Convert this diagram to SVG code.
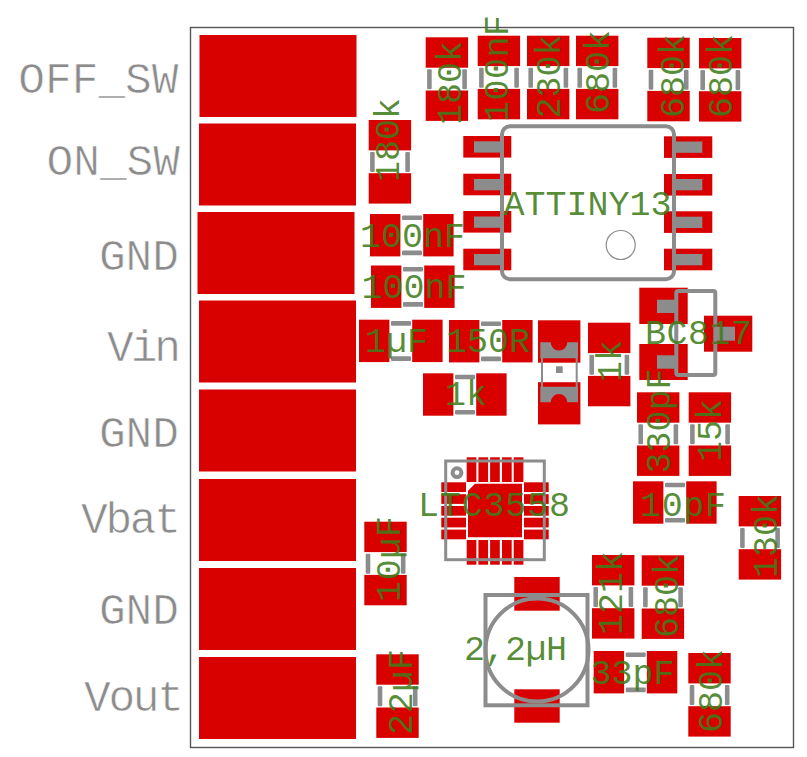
<svg xmlns="http://www.w3.org/2000/svg" width="807" height="757" viewBox="0 0 807 757">
<style>
.p{fill:#d90000}
.g{fill:#8c8c8c}
.o{fill:none;stroke:#8c8c8c}
.t{font-family:"Liberation Mono",monospace;font-size:35px;fill:#3f7d1a;fill-opacity:.88}
.l{font-family:"Liberation Mono",monospace;font-size:44.5px;fill:#8c8c8c;text-anchor:end;stroke:#fff;stroke-width:.6}
</style>
<defs>
<g id="capV"><rect class="p" width="42.4" height="30.4"/><rect class="p" y="53.2" width="42.4" height="30.4"/><rect class="g" x="1.4" y="32" width="4.6" height="20" rx="1"/><rect class="g" x="36.6" y="32" width="4.6" height="20" rx="1"/></g>
<g id="capH"><rect class="p" width="30.4" height="42.4"/><rect class="p" x="53.2" width="30.4" height="42.4"/><rect class="g" x="32" y="1.4" width="20" height="4.6" rx="1"/><rect class="g" x="32" y="36.6" width="20" height="4.6" rx="1"/></g>
<rect id="conn" class="p" width="157" height="82"/>
<rect id="qv" class="p" width="9.7" height="24.7"/>
<rect id="qh" class="p" width="24.7" height="9.7"/>
</defs>
<rect width="807" height="757" fill="#fff"/>
<rect id="board" x="190.5" y="27.5" width="603" height="720" fill="none" stroke="#555" stroke-width="1.4"/>
<g id="connectors"/>
<g id="pad-off-sw"><use href="#conn" x="199.5" y="35"/><text class="l" x="178.5" y="92.7">OFF_SW</text></g>
<g id="pad-on-sw"><use href="#conn" x="199" y="123.5"/><text class="l" x="180" y="175">ON_SW</text></g>
<g id="pad-gnd-1"><use href="#conn" x="197.5" y="212"/><text class="l" x="179" y="270">GND</text></g>
<g id="pad-vin"><use href="#conn" x="199" y="300.5"/><text class="l" x="181" y="360.7" textLength="74">Vin</text></g>
<g id="pad-gnd-2"><use href="#conn" x="199" y="389.5"/><text class="l" x="179" y="447">GND</text></g>
<g id="pad-vbat"><use href="#conn" x="199" y="479"/><text class="l" x="181" y="533" textLength="100">Vbat</text></g>
<g id="pad-gnd-3"><use href="#conn" x="199" y="568"/><text class="l" x="179" y="624">GND</text></g>
<g id="pad-vout"><use href="#conn" x="199" y="657"/><text class="l" x="184" y="711" textLength="100">Vout</text></g>

<g id="attiny13">
<rect class="p" x="463.3" y="136" width="48" height="21.6"/><rect class="p" x="463.3" y="173.7" width="48" height="21.6"/><rect class="p" x="463.3" y="211" width="48" height="21.6"/><rect class="p" x="463.3" y="248.7" width="48" height="21.6"/>
<rect class="p" x="664" y="136.3" width="48.3" height="21.6"/><rect class="p" x="664" y="174" width="48.3" height="21.6"/><rect class="p" x="664" y="211.3" width="48.3" height="21.6"/><rect class="p" x="664" y="248.7" width="48.3" height="21.6"/>
<rect class="g" x="474" y="141.3" width="28" height="11.3"/><rect class="g" x="474" y="179" width="28" height="11.3"/><rect class="g" x="474" y="216.5" width="28" height="11.3"/><rect class="g" x="474" y="254" width="28" height="11.3"/>
<rect class="g" x="674.5" y="141.5" width="27.8" height="11.3"/><rect class="g" x="674.5" y="179" width="27.8" height="11.3"/><rect class="g" x="674.5" y="216.7" width="27.8" height="11.3"/><rect class="g" x="674.5" y="254" width="27.8" height="11.3"/>
<rect class="o" x="502" y="126.3" width="172" height="153" rx="8" stroke-width="4"/>
<circle class="o" cx="620.7" cy="245" r="14.5" stroke-width="1.2"/>
<text class="t" x="503.5" y="215">ATTINY13</text>
</g>

<g id="r-180k-a"><use href="#capV" x="425.7" y="37.3"/><text class="t" x="461" y="125" transform="rotate(-90 461 125)">180k</text></g>
<g id="c-100nf-a"><use href="#capV" x="477.7" y="35.7"/><text class="t" x="507.7" y="122" transform="rotate(-90 507.7 122)" textLength="107">100nF</text></g>
<g id="r-230k"><use href="#capV" x="527" y="35.7"/><text class="t" x="560" y="118.5" transform="rotate(-90 560 118.5)">230k</text></g>
<g id="r-680k-a"><use href="#capV" x="576" y="35.7"/><text class="t" x="609" y="114" transform="rotate(-90 609 114)">680k</text></g>
<g id="r-680k-b"><use href="#capV" x="647.3" y="37.7"/><text class="t" x="683.5" y="118" transform="rotate(-90 683.5 118)">680k</text></g>
<g id="r-680k-c"><use href="#capV" x="699" y="38"/><text class="t" x="732" y="118" transform="rotate(-90 732 118)">680k</text></g>
<g id="r-180k-b"><use href="#capV" x="368.7" y="120"/><text class="t" x="399" y="182" transform="rotate(-90 399 182)">180k</text></g>
<g id="c-100nf-b"><use href="#capH" x="370" y="214"/><text class="t" x="360" y="246.7">100nF</text></g>
<g id="c-100nf-c"><use href="#capH" x="371" y="265.5"/><text class="t" x="361.5" y="298.3">100nF</text></g>
<g id="c-1uf"><use href="#capH" x="359" y="319.7"/><text class="t" x="365" y="351.7">1µF</text></g>
<g id="r-150r"><use href="#capH" x="449" y="320"/><text class="t" x="446" y="352">150R</text></g>
<g id="r-1k-a"><use href="#capH" x="423" y="373.3"/><text class="t" x="445" y="405">1k</text></g>

<g id="led">
<rect class="p" x="538" y="320.3" width="42.4" height="42.4"/><rect class="p" x="538" y="382.2" width="42.4" height="42.2"/>
<path class="g" d="M540.3 342.3H550.7A8.3 8.3 0 0 0 567.3 342.3H578V358.3H540.3Z"/>
<path class="g" d="M540.3 386.7H578V402.3H567.3A8.3 8.3 0 0 0 550.7 402.3H540.3Z"/>
<path class="o" d="M542 358V387M576.7 358V387" stroke-width="2"/>
<rect class="g" x="556" y="366.3" width="6.7" height="6.7"/>
</g>
<g id="r-1k-b"><use href="#capV" x="588" y="322.7"/><text class="t" x="620.7" y="382" transform="rotate(-90 620.7 382)">1k</text></g>

<g id="bc817">
<rect class="p" x="639.3" y="287.7" width="48.4" height="36.3"/><rect class="p" x="639.3" y="344" width="48.4" height="36"/><rect class="p" x="704" y="315.7" width="48.3" height="36"/>
<rect class="g" x="657" y="299.7" width="20" height="13.3"/><rect class="g" x="657" y="355.3" width="20" height="13.4"/><rect class="g" x="716" y="326.7" width="19" height="14"/>
<rect class="o" x="676.3" y="291" width="39" height="84" rx="2" stroke-width="4"/>
<text class="t" x="645" y="344.3" textLength="107">BC817</text>
</g>
<g id="c-330pf"><use href="#capV" x="637" y="392.3"/><text class="t" x="670" y="473.5" transform="rotate(-90 670 473.5)">330pF</text></g>
<g id="r-15k"><use href="#capV" x="688.7" y="392.3"/><text class="t" x="720.7" y="462" transform="rotate(-90 720.7 462)">15k</text></g>
<g id="c-10pf"><use href="#capH" x="633" y="481.3"/><text class="t" x="640" y="515.7" textLength="86">10pF</text></g>

<g id="ltc3558">
<use href="#qv" x="466.7" y="457.3"/><use href="#qv" x="478.4" y="457.3"/><use href="#qv" x="490.1" y="457.3"/><use href="#qv" x="502" y="457.3"/><use href="#qv" x="513.7" y="457.3"/>
<use href="#qv" x="466.7" y="540"/><use href="#qv" x="478.4" y="540"/><use href="#qv" x="490.1" y="540"/><use href="#qv" x="502" y="540"/><use href="#qv" x="513.7" y="540"/>
<use href="#qh" x="441.3" y="482.3"/><use href="#qh" x="441.3" y="494.2"/><use href="#qh" x="441.3" y="506"/><use href="#qh" x="441.3" y="517.7"/><use href="#qh" x="441.3" y="529.6"/>
<use href="#qh" x="524" y="482.3"/><use href="#qh" x="524" y="494.2"/><use href="#qh" x="524" y="506"/><use href="#qh" x="524" y="517.7"/><use href="#qh" x="524" y="529.6"/>
<path class="p" d="M475 483.7H522V537.3H468V490.7Z"/>
<rect class="o" x="445.7" y="461" width="98.6" height="98.7" stroke-width="3"/>
<circle class="o" cx="457" cy="472.7" r="4.4" stroke-width="4"/>
<text class="t" x="418" y="515.7" textLength="152">LTC3558</text>
</g>

<g id="c-10uf"><use href="#capV" x="364.3" y="521.7"/><text class="t" x="400" y="602" transform="rotate(-90 400 602)" textLength="86">10µF</text></g>
<g id="c-22uf"><use href="#capV" x="376.3" y="654.3"/><text class="t" x="411.7" y="735" transform="rotate(-90 411.7 735)" textLength="86">22µF</text></g>

<g id="inductor">
<rect class="p" x="514.3" y="577" width="45.4" height="33.7"/><rect class="p" x="514.3" y="689.3" width="45.4" height="33.4"/>
<rect class="o" x="485.5" y="595" width="102" height="110.3" stroke-width="4"/>
<circle class="o" cx="537" cy="650" r="51.5" stroke-width="4"/>
<text class="t" x="464" y="660" textLength="103">2,2µH</text>
</g>

<g id="r-121k"><use href="#capV" x="592" y="555"/><text class="t" x="622" y="635" transform="rotate(-90 622 635)">121k</text></g>
<g id="r-680k-d"><use href="#capV" x="641.7" y="555.3"/><text class="t" x="678" y="638" transform="rotate(-90 678 638)">680k</text></g>
<g id="c-33pf"><use href="#capH" x="593.7" y="651"/><text class="t" x="590.5" y="684">33pF</text></g>
<g id="r-680k-e"><use href="#capV" x="688.3" y="653"/><text class="t" x="722.3" y="733" transform="rotate(-90 722.3 733)">680k</text></g>
<g id="r-130k"><use href="#capV" x="738.7" y="496"/><text class="t" x="776.7" y="578" transform="rotate(-90 776.7 578)">130k</text></g>
</svg>
